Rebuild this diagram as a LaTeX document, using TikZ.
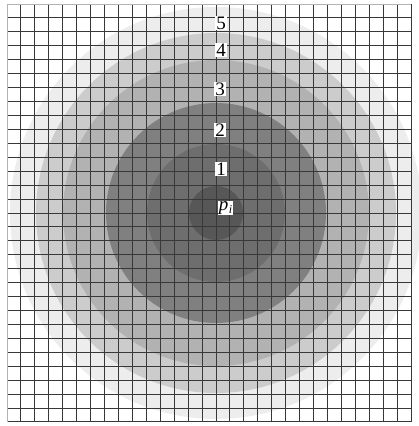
\documentclass[tikz,border=0pt]{standalone}
\usepackage{fontspec}
\setmainfont{Liberation Serif}
\begin{document}
\begin{tikzpicture}[x=1pt,y=-1pt,
  lbl/.style={fill=white,inner sep=0.8pt,font=\fontsize{19}{19}\selectfont},
  gridline/.style={draw=black!78,line width=0.9pt}]
\useasboundingbox (0,0) rectangle (419,426);
\begin{scope}
\clip (0,0) rectangle (419,426);
\coordinate (c) at (216,213);
\fill[black!7] (c) circle (206);
\fill[black!20] (c) circle (180);
\fill[black!30] (c) circle (153);
\fill[black!50] (c) circle (110);
\fill[black!57] (c) circle (69);
\fill[black!66] (c) circle (27);
\end{scope}
\foreach \k in {1,...,29} {
  \draw[gridline] ({7+\k*13.93},4) -- ({7+\k*13.93},422);
}
\foreach \k in {1,...,30} {
  \draw[gridline] (7,{4+\k*13.93}) -- (411,{4+\k*13.93});
}
\draw[draw=black!30,line width=0.9pt] (7,422) -- (7,4) -- (411,4);
\node[lbl] (n5) at (221,23) {5};
\node[lbl] (n4) at (221,50) {4};
\node[lbl] (n3) at (220,89) {3};
\node[lbl] (n2) at (220,130) {2};
\node[lbl] (n1) at (221,169) {1};
\node[lbl] (np) at (225.5,208) {\itshape p\kern0.5pt\raisebox{-0.4ex}{\fontsize{12}{12}\selectfont\itshape i}};
\end{tikzpicture}
\end{document}
